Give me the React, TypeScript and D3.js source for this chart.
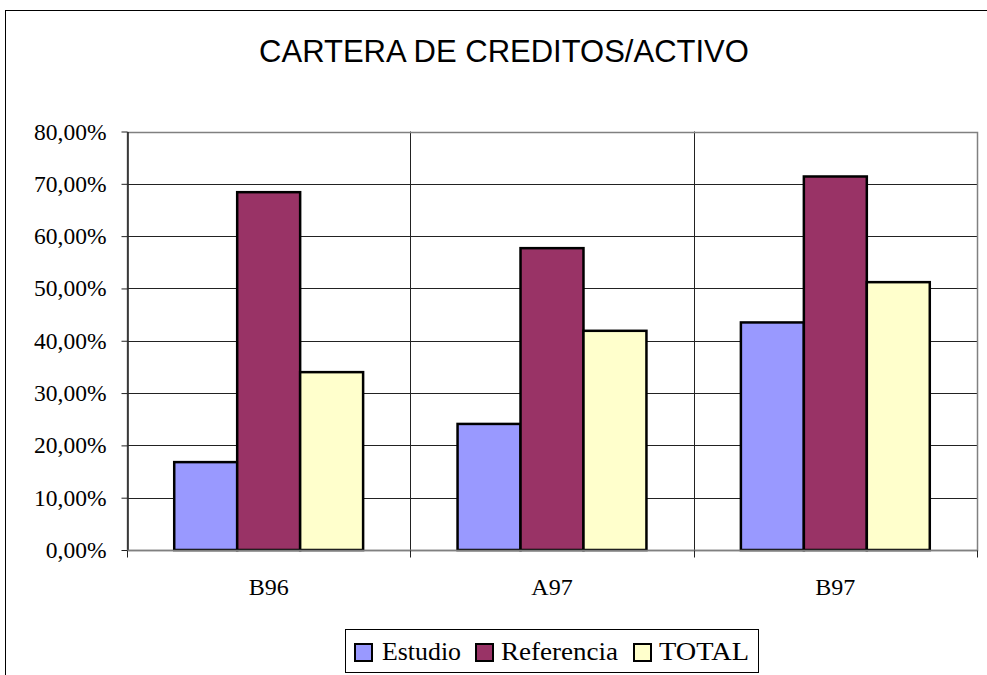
import { FC, useEffect, useRef } from 'react';
import * as d3 from 'd3';

const categories = ['B96', 'A97', 'B97'];
const seriesNames = ['Estudio', 'Referencia', 'TOTAL'];
const estudio = [16.8, 24.1, 43.5];
const referencia = [68.4, 57.7, 71.4];
const total = [34.0, 41.9, 51.2];
const yTicks = [0, 10, 20, 30, 40, 50, 60, 70, 80];

const COLORS = ['#9999ff', '#993366', '#ffffcc'];
const SERIF = '"Liberation Serif", "Times New Roman", serif';

const App: FC = () => {
  const svgRef = useRef<SVGSVGElement>(null);

  useEffect(() => {
    if (!svgRef.current) return;
    const width = 987;
    const height = 675;
    const svg = d3.select(svgRef.current).attr('width', width).attr('height', height);
    svg.selectAll('*').remove();

    const left = 127;
    const right = 977;
    const top = 131.5;
    const bottom = 550;

    // chart frame
    svg
      .append('rect')
      .attr('x', 5.5)
      .attr('y', 10.5)
      .attr('width', 1000)
      .attr('height', 700)
      .attr('fill', 'white')
      .attr('stroke', '#000');

    svg
      .append('text')
      .attr('x', 504)
      .attr('y', 62)
      .attr('text-anchor', 'middle')
      .attr('font-family', '"Liberation Sans", Arial, sans-serif')
      .attr('font-size', 31)
      .text('CARTERA DE CREDITOS/ACTIVO');

    const xScale = d3.scaleBand<string>().domain(categories).range([left, right]);
    const bw = xScale.bandwidth();
    const barW = bw / 4.5;
    const xInner = d3
      .scaleBand<string>()
      .domain(seriesNames)
      .range([barW * 0.75, bw - barW * 0.75]);
    const yScale = d3.scaleLinear().domain([0, 80]).range([bottom, top]);

    // horizontal gridlines
    svg
      .append('g')
      .selectAll('line')
      .data(yTicks.slice(1, -1))
      .join('line')
      .attr('x1', left)
      .attr('x2', right)
      .attr('y1', (d) => Math.round(yScale(d)) + 0.5)
      .attr('y2', (d) => Math.round(yScale(d)) + 0.5)
      .attr('stroke', '#222');

    // vertical gridlines between categories
    svg
      .append('g')
      .selectAll('line')
      .data(categories.slice(1))
      .join('line')
      .attr('x1', (d) => Math.round(xScale(d)!) + 0.5)
      .attr('x2', (d) => Math.round(xScale(d)!) + 0.5)
      .attr('y1', top)
      .attr('y2', bottom)
      .attr('stroke', '#222');

    // plot border
    svg
      .append('rect')
      .attr('x', left + 0.5)
      .attr('y', Math.round(top) + 0.5)
      .attr('width', right - left)
      .attr('height', bottom - Math.round(top))
      .attr('fill', 'none')
      .attr('stroke', '#808080')
      .attr('stroke-width', 1.5);

    const values = [estudio, referencia, total];
    const bars = categories.flatMap((c, ci) =>
      seriesNames.map((s, si) => ({ c, s, si, v: values[si][ci] }))
    );

    svg
      .append('g')
      .selectAll('rect')
      .data(bars)
      .join('rect')
      .attr('x', (d) => xScale(d.c)! + xInner(d.s)!)
      .attr('y', (d) => yScale(d.v))
      .attr('width', xInner.bandwidth())
      .attr('height', (d) => bottom - yScale(d.v))
      .attr('fill', (d) => COLORS[d.si])
      .attr('stroke', '#000')
      .attr('stroke-width', 2.5);

    // y axis
    const yAxis = d3
      .axisLeft(yScale)
      .tickValues(yTicks)
      .tickFormat((d) => d3.format('.2f')(d as number).replace('.', ',') + '%')
      .tickSizeInner(6)
      .tickSizeOuter(0)
      .tickPadding(15);
    const yg = svg
      .append('g')
      .attr('transform', `translate(${left + 0.5},0)`)
      .call(yAxis);
    yg.select('.domain').attr('stroke', '#222').attr('stroke-width', 1.5);
    yg.selectAll('.tick line').attr('stroke', '#222');
    yg.selectAll('.tick text')
      .attr('font-family', SERIF)
      .attr('font-size', 23.5)
      .attr('fill', '#000');

    // x axis
    const xg = svg.append('g').attr('transform', `translate(0,${bottom + 0.5})`);
    xg.append('line')
      .attr('x1', left)
      .attr('x2', right)
      .attr('stroke', '#808080')
      .attr('stroke-width', 1.5);
    xg.selectAll('line.tk')
      .data([...categories.map((c) => xScale(c)!), right])
      .join('line')
      .attr('class', 'tk')
      .attr('x1', (d) => Math.round(d) + 0.5)
      .attr('x2', (d) => Math.round(d) + 0.5)
      .attr('y1', 0)
      .attr('y2', 7)
      .attr('stroke', '#222');
    xg.selectAll('text')
      .data(categories)
      .join('text')
      .attr('x', (d) => xScale(d)! + bw / 2)
      .attr('y', 44)
      .attr('text-anchor', 'middle')
      .attr('font-family', SERIF)
      .attr('font-size', 24)
      .text((d) => d);

    // legend
    const lg = svg.append('g');
    lg.append('rect')
      .attr('x', 345.5)
      .attr('y', 629.5)
      .attr('width', 413)
      .attr('height', 43)
      .attr('fill', 'white')
      .attr('stroke', '#000');
    const swatchX = [355, 476, 634];
    const textX = [382, 501, 659];
    const textW = [79, 117, 90];
    seriesNames.forEach((s, i) => {
      lg.append('rect')
        .attr('x', swatchX[i])
        .attr('y', 644)
        .attr('width', 17)
        .attr('height', 17)
        .attr('fill', COLORS[i])
        .attr('stroke', '#000')
        .attr('stroke-width', 2);
      lg.append('text')
        .attr('x', textX[i])
        .attr('y', 660)
        .attr('font-family', SERIF)
        .attr('font-size', 25.5)
        .attr('textLength', textW[i])
        .attr('lengthAdjust', 'spacingAndGlyphs')
        .text(s);
    });
  }, []);

  return <svg ref={svgRef} style={{ position: 'absolute', left: 0, top: 0 }} />;
};

export default App;
